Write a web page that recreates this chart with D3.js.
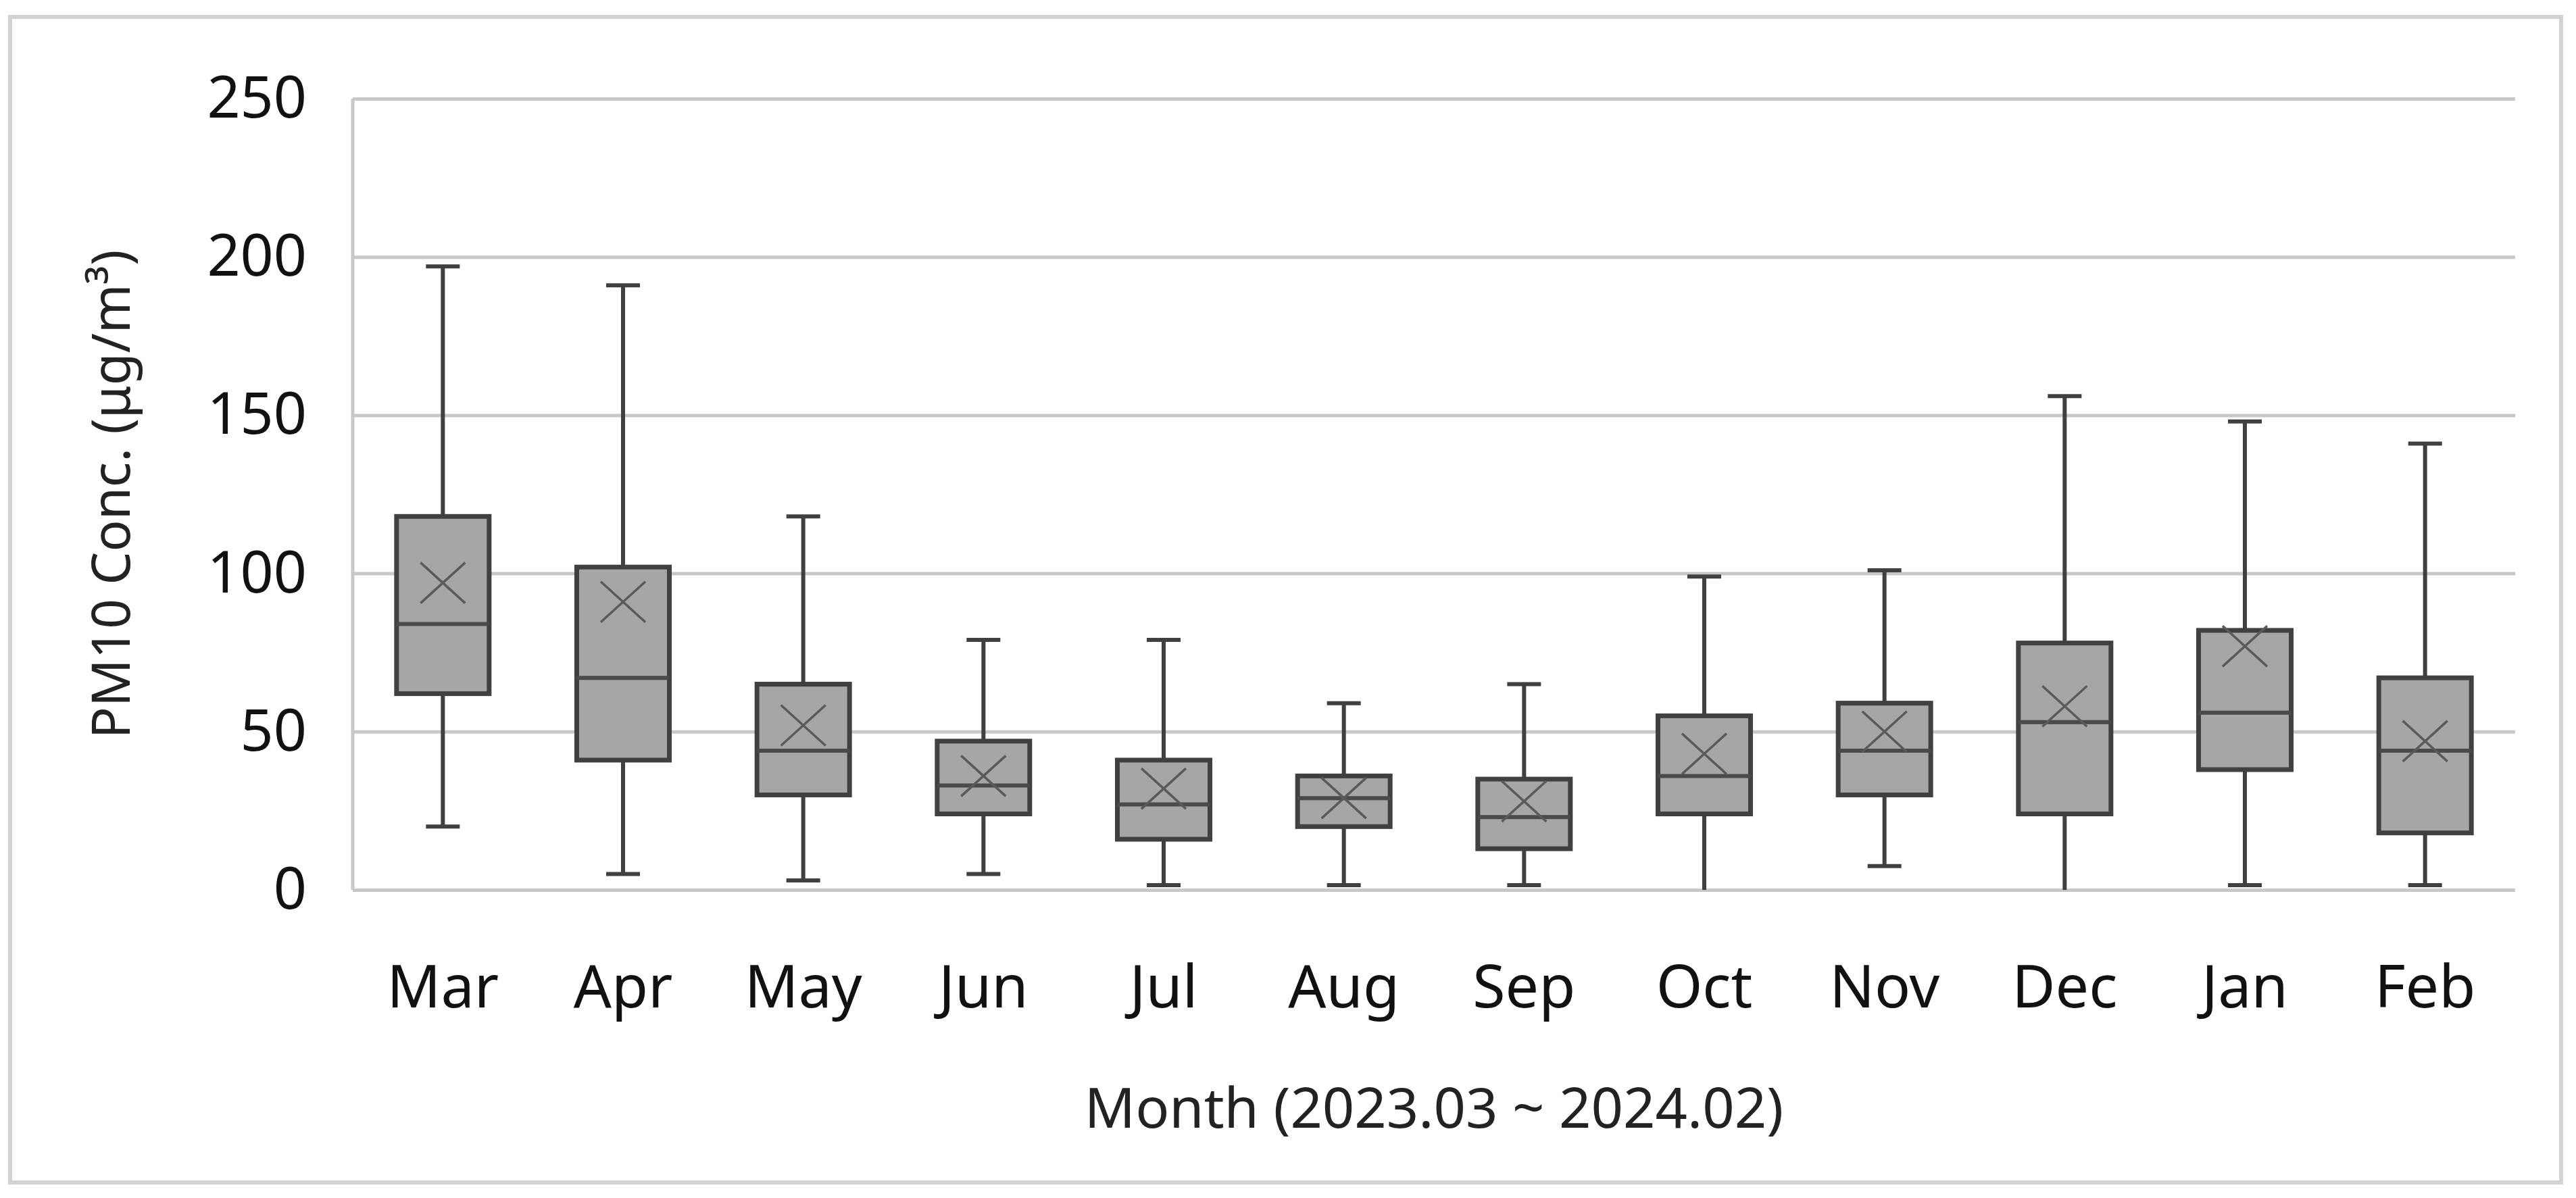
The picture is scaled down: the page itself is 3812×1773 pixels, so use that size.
<!DOCTYPE html>
<html>
<head>
<meta charset="utf-8">
<script src="https://cdn.jsdelivr.net/npm/d3@7"></script>
<style>
  body { margin: 0; background: #fff; }
  svg { display: block; }
</style>
</head>
<body>
<svg id="chart"></svg>
<script>
// monthly PM10 box stats
var months = ['Mar', 'Apr', 'May', 'Jun', 'Jul', 'Aug', 'Sep', 'Oct', 'Nov', 'Dec', 'Jan', 'Feb'];
var whiskerMax = [197, 191, 118, 79, 79, 59, 65, 99, 101, 156, 148, 141];
var q3 = [118, 102, 65, 47, 41, 36, 35, 55, 59, 78, 82, 67];
var median = [84, 67, 44, 33, 27, 29, 23, 36, 44, 53, 56, 44];
var q1 = [62, 41, 30, 24, 16, 20, 13, 24, 30, 24, 38, 18];
var whiskerMin = [20, 5, 3, 5, 1.5, 1.5, 1.5, 0, 7.5, 0, 1.5, 1.5];
var mean = [97, 91, 52, 36, 32, 29, 28, 43, 50, 58, 77, 47];
var yTicks = [0, 50, 100, 150, 200, 250];

var svgWidth = 3812, svgHeight = 1773;
var margin = { top: 146, right: 90, bottom: 456, left: 522 };
var width = svgWidth - margin.left - margin.right;
var height = svgHeight - margin.top - margin.bottom;
var font = '"Noto Sans", sans-serif';

var svg = d3.select('#chart')
  .attr('width', svgWidth)
  .attr('height', svgHeight)
  .style('font-family', font);

// outer frame
svg.append('rect')
  .attr('x', 15).attr('y', 25)
  .attr('width', 3775).attr('height', 1725)
  .attr('fill', '#fff')
  .attr('stroke', '#d2d2d2')
  .attr('stroke-width', 6);

var g = svg.append('g')
  .attr('transform', 'translate(' + margin.left + ',' + margin.top + ')');

var x = d3.scaleBand().domain(months).range([0, width]);
var y = d3.scaleLinear().domain([0, 250]).range([height, 0]);

var data = months.map(function (m, i) {
  return { month: m, max: whiskerMax[i], q3: q3[i], med: median[i], q1: q1[i], min: whiskerMin[i], mean: mean[i] };
});

// gridlines + y labels
var yAxis = g.append('g')
  .call(d3.axisLeft(y).tickValues(yTicks).tickSize(-width).tickPadding(68));
yAxis.select('.domain').remove();
yAxis.selectAll('.tick line')
  .attr('stroke', '#c8c8c8')
  .attr('stroke-width', 5);
yAxis.selectAll('.tick text')
  .attr('fill', '#111')
  .style('font-family', font)
  .style('font-size', '86px');

// left axis line
g.append('line')
  .attr('x1', 0).attr('x2', 0)
  .attr('y1', y(250)).attr('y2', y(0))
  .attr('stroke', '#c8c8c8')
  .attr('stroke-width', 5);

// x labels
var xAxis = g.append('g')
  .attr('transform', 'translate(0,' + height + ')')
  .call(d3.axisBottom(x).tickSize(0));
xAxis.select('.domain').remove();
xAxis.selectAll('.tick text')
  .attr('fill', '#111')
  .attr('y', 174)
  .attr('dy', 0)
  .style('font-family', font)
  .style('font-size', '88px');

var bw = 137, cap = 50;
var box = g.selectAll('.box').data(data).enter().append('g')
  .attr('class', 'box')
  .attr('transform', function (d) { return 'translate(' + (x(d.month) + x.bandwidth() / 2) + ',0)'; });

box.append('line')
  .attr('x1', 0).attr('x2', 0)
  .attr('y1', function (d) { return y(d.max); })
  .attr('y2', function (d) { return y(d.min); })
  .attr('stroke', '#404040').attr('stroke-width', 6);

box.append('line')
  .attr('x1', -cap / 2).attr('x2', cap / 2)
  .attr('y1', function (d) { return y(d.max); })
  .attr('y2', function (d) { return y(d.max); })
  .attr('stroke', '#404040').attr('stroke-width', 6);

box.filter(function (d) { return d.min > 0; }).append('line')
  .attr('x1', -cap / 2).attr('x2', cap / 2)
  .attr('y1', function (d) { return y(d.min); })
  .attr('y2', function (d) { return y(d.min); })
  .attr('stroke', '#404040').attr('stroke-width', 6);

box.append('rect')
  .attr('x', -bw / 2).attr('width', bw)
  .attr('y', function (d) { return y(d.q3); })
  .attr('height', function (d) { return y(d.q1) - y(d.q3); })
  .attr('fill', '#a6a6a6')
  .attr('stroke', '#404040').attr('stroke-width', 7);

box.append('line')
  .attr('x1', -bw / 2).attr('x2', bw / 2)
  .attr('y1', function (d) { return y(d.med); })
  .attr('y2', function (d) { return y(d.med); })
  .attr('stroke', '#4a4a4a').attr('stroke-width', 6);

// mean marker
var sx = 33, sy = 30;
box.append('path')
  .attr('d', function (d) {
    var cy = y(d.mean);
    return 'M' + (-sx) + ',' + (cy - sy) + 'L' + sx + ',' + (cy + sy) +
      'M' + sx + ',' + (cy - sy) + 'L' + (-sx) + ',' + (cy + sy);
  })
  .attr('stroke', '#5a5a5a').attr('stroke-width', 3.5).attr('fill', 'none');

// axis titles
g.append('text')
  .attr('x', width / 2)
  .attr('y', height + 352)
  .attr('text-anchor', 'middle')
  .attr('fill', '#222')
  .style('font-size', '83px')
  .text('Month (2023.03 ~ 2024.02)');

g.append('text')
  .attr('transform', 'translate(' + (192 - margin.left) + ',' + (height / 2) + ') rotate(-90)')
  .attr('text-anchor', 'middle')
  .attr('fill', '#222')
  .style('font-size', '78px')
  .text('PM10 Conc. (μg/m³)');
</script>
</body>
</html>
